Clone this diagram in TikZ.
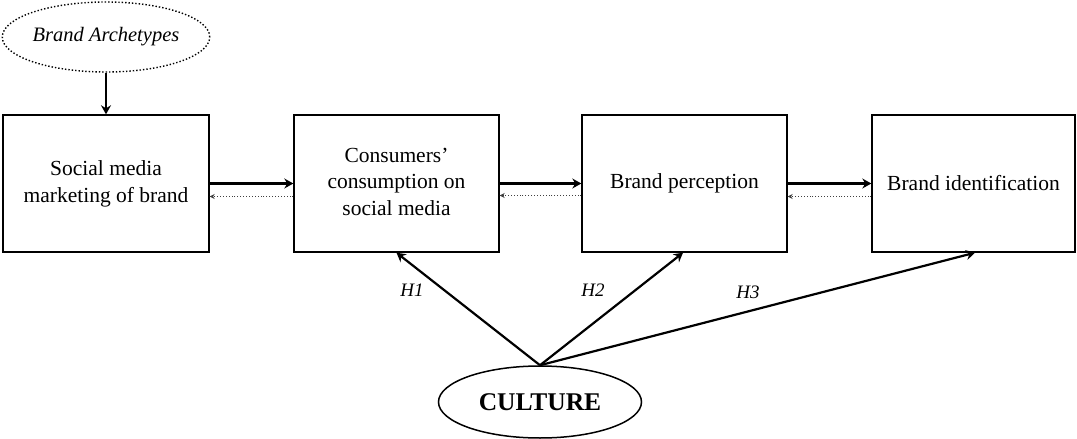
\documentclass[tikz,border=0pt]{standalone}
\usepackage{fontspec}
\setmainfont{Liberation Serif}
\usetikzlibrary{arrows.meta,shapes.geometric}
\newcommand{\lines}[2]{\raisebox{#1}{\begin{tabular}{@{}c@{}}#2\end{tabular}}}
\tikzset{
  box/.style={draw, line width=1.4pt, minimum height=137pt, inner sep=0pt,
    font=\fontsize{21.5}{26.5}\selectfont},
  main/.style={line width=2.4pt, -{Stealth[length=9pt,width=10pt,inset=3pt]}},
  back/.style={line width=0.9pt, dotted, draw=black!75, -{Stealth[length=5pt,width=5pt]}},
  hyp/.style={line width=2.2pt, -{Stealth[length=9pt,width=10pt,inset=3pt]}},
  hlabel/.style={font=\fontsize{19}{22}\itshape\selectfont},
}
\begin{document}
\begin{tikzpicture}[x=1pt,y=-1pt]
\useasboundingbox (0,0) rectangle (1077,439);
\node[box, minimum width=206pt] (b1) at (106,183.5) {\lines{3pt}{Social media\\marketing of brand}};
\node[box, minimum width=205pt] (b2) at (396.5,183.5) {\lines{5pt}{Consumers’\\consumption on\\social media}};
\node[box, minimum width=205pt] (b3) at (684.5,183.5) {Brand perception};
\node[box, minimum width=203pt] (b4) at (973.5,183.5) {Brand identification};
\node[ellipse, draw, dotted, line width=1.4pt, minimum width=203pt, minimum height=70pt, inner sep=0pt,
  font=\fontsize{20.5}{24}\itshape\selectfont] (arch) at (106,37) {Brand Archetypes};
\node[ellipse, draw, line width=1.5pt, minimum width=203pt, minimum height=72pt, inner sep=0pt,
  font=\fontsize{25.5}{30}\bfseries\selectfont] (cul) at (540,402) {CULTURE};
\draw[main] (arch.south) -- (b1.north);
\draw[main] (b1.east) -- (b2.west);
\draw[main] (b2.east) -- (b3.west);
\draw[main] (b3.east) -- (b4.west);
\draw[back] ([yshift=-13pt]b2.west) -- ([yshift=-13pt]b1.east);
\draw[back] ([yshift=-12pt]b3.west) -- ([yshift=-12pt]b2.east);
\draw[back] ([yshift=-13pt]b4.west) -- ([yshift=-13pt]b3.east);
\draw[hyp] (cul.north) -- (b2.south);
\draw[hyp] (cul.north) -- ([xshift=-1.5pt]b3.south);
\draw[hyp] (cul.north) -- ([xshift=1.5pt]b4.south);
\node[hlabel] (h1) at (412,290) {H1};
\node[hlabel] (h2) at (593,290) {H2};
\node[hlabel] (h3) at (748,292) {H3};
\end{tikzpicture}
\end{document}
